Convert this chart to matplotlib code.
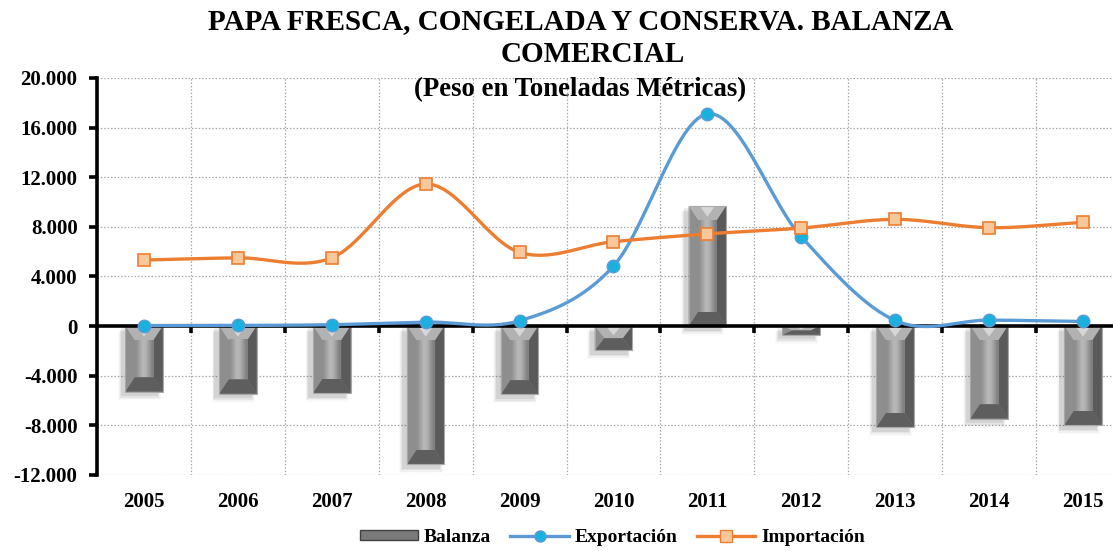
import numpy as np
import matplotlib
matplotlib.use("Agg")
import matplotlib.pyplot as plt
from matplotlib.patches import Polygon, Rectangle
from matplotlib.lines import Line2D
from matplotlib.ticker import FuncFormatter, FixedLocator

years = ["2005", "2006", "2007", "2008", "2009", "2010",
         "2011", "2012", "2013", "2014", "2015"]
exportacion = [40, 50, 110, 320, 430, 4840, 17100, 7200, 450, 480, 370]
importacion = [5320, 5500, 5500, 11450, 5940, 6800, 7430, 7900, 8600, 7930, 8360]
balanza = [-5280, -5450, -5390, -11130, -5510, -1960, 9670, -700, -8150, -7450, -7990]

plt.rcParams["font.family"] = ["Liberation Serif", "DejaVu Serif"]
plt.rcParams["font.weight"] = "bold"

BLUE = "#5b9bd5"
ORANGE = "#ed7d31"


def smooth(xs, ys, n=30):
    """Catmull-Rom curve through the points (like Excel's smoothed line)."""
    xs = np.asarray(xs, float)
    ys = np.asarray(ys, float)
    px = np.concatenate([[2 * xs[0] - xs[1]], xs, [2 * xs[-1] - xs[-2]]])
    py = np.concatenate([[2 * ys[0] - ys[1]], ys, [2 * ys[-1] - ys[-2]]])
    outx, outy = [], []
    t = np.linspace(0, 1, n)
    for i in range(1, len(px) - 2):
        for p, out in ((px, outx), (py, outy)):
            p0, p1, p2, p3 = p[i - 1], p[i], p[i + 1], p[i + 2]
            out.extend(0.5 * ((2 * p1) + (-p0 + p2) * t
                              + (2 * p0 - 5 * p1 + 4 * p2 - p3) * t ** 2
                              + (-p0 + 3 * p1 - 3 * p2 + p3) * t ** 3))
    return np.array(outx), np.array(outy)


def bevel_bar(ax, patch):
    """Paint a bevelled 3D look on top of a bar patch."""
    x0, y0 = patch.get_x(), patch.get_y()
    w, h = patch.get_width(), patch.get_height()
    x1 = x0 + w
    ylo, yhi = min(y0, y0 + h), max(y0, y0 + h)
    dx = w * 0.25
    dy = min(1150, (yhi - ylo) / 2)
    # soft shadow, down and to the left
    for k, a in enumerate([0.07, 0.05, 0.035, 0.02]):
        ax.add_patch(Rectangle((x0 - 0.05 - 0.01 * k, ylo - 380 - 110 * k),
                               w + 0.02 * k, yhi - ylo + 200,
                               color="black", alpha=a, lw=0, zorder=1.5))
    ix0, ix1 = x0 + dx, x1 - dx
    iylo, iyhi = ylo + dy, yhi - dy
    faces = [
        ([(x0, yhi), (x1, yhi), (ix1, iyhi), (ix0, iyhi)], "#b2b2b2"),
        ([(x0, ylo), (x1, ylo), (ix1, iylo), (ix0, iylo)], "#5e5e5e"),
        ([(x0, ylo), (x0, yhi), (ix0, iyhi), (ix0, iylo)], "#8e8e8e"),
        ([(x1, ylo), (x1, yhi), (ix1, iyhi), (ix1, iylo)], "#5a5a5a"),
    ]
    for pts, c in faces:
        ax.add_patch(Polygon(pts, closed=True, facecolor=c, edgecolor="none",
                             zorder=2.1))
    if iyhi > iylo:
        grad = np.array([[0.56, 0.64, 0.72, 0.70, 0.60, 0.50]])
        ax.imshow(grad, cmap="gray", vmin=0, vmax=1, aspect="auto",
                  extent=(ix0, ix1, iylo, iyhi), interpolation="bilinear",
                  zorder=2.2)
    cx = (x0 + x1) / 2
    ax.add_patch(Polygon([(cx - dx * 0.8, yhi), (cx + dx * 0.8, yhi),
                          (cx, yhi - dy * 0.75)], closed=True,
                         facecolor="#d6d6d6", edgecolor="none", zorder=2.15))
    ax.add_patch(Rectangle((x0, ylo), w, yhi - ylo, fill=False,
                           edgecolor="#a8a8a8", lw=0.8, zorder=2.3))


fig = plt.figure(figsize=(11.13, 5.51), dpi=100)
ax = fig.add_axes([0.0872, 0.138, 0.928, 0.7206])

x = np.arange(len(years))
bars = ax.bar(x, balanza, width=0.4, color="#8c8c8c", zorder=2)
for b in bars:
    bevel_bar(ax, b)

sx, sy = smooth(x, exportacion)
ax.plot(sx, sy, color=BLUE, lw=2.4, zorder=3, solid_capstyle="round")
ax.plot(x, exportacion, "o", ms=9, mfc="#1ab0e0", mec=BLUE, mew=1.0, zorder=4)

sx, sy = smooth(x, importacion)
ax.plot(sx, sy, color=ORANGE, lw=2.4, zorder=3, solid_capstyle="round")
ax.plot(x, importacion, "s", ms=9, mfc="#f9c89a", mec=ORANGE, mew=1.2, zorder=4)

ax.set_xlim(-0.5, len(years) - 0.5)
ax.set_ylim(-12000, 20000)
ax.set_yticks(np.arange(-12000, 20001, 4000))
ax.yaxis.set_major_formatter(
    FuncFormatter(lambda v, p: f"{int(v):,}".replace(",", ".")))
ax.set_xticks(x)
ax.set_xticklabels(years)
ax.xaxis.set_minor_locator(FixedLocator(np.arange(-0.5, len(years), 1.0)))

ax.grid(True, axis="y", which="major", linestyle=(0, (1.2, 1.5)),
        color="#a8a8a8", lw=0.9, zorder=0)
ax.grid(True, axis="x", which="minor", linestyle=(0, (1.2, 1.5)),
        color="#a8a8a8", lw=0.9, zorder=0)
ax.set_axisbelow(True)

for s in ["top", "right", "bottom"]:
    ax.spines[s].set_visible(False)
ax.spines["left"].set_linewidth(2.6)
ax.axhline(0, color="black", lw=2.6, zorder=2.5)

ax.tick_params(axis="y", length=6, width=2.6, direction="out",
               labelsize=15, pad=8)
ax.tick_params(axis="x", which="major", length=0, labelsize=15, pad=12)
ax.tick_params(axis="x", which="minor", length=0)
# little tick marks on the zero line between categories
for b in np.arange(0.5, len(years) - 0.5, 1.0):
    ax.plot([b, b], [0, -550], color="black", lw=2.6, zorder=2.5,
            solid_capstyle="butt")
for lbl in ax.get_xticklabels() + ax.get_yticklabels():
    lbl.set_fontweight("bold")

fig.text(0.522, 1 - 22 / 551, "PAPA FRESCA, CONGELADA Y CONSERVA. BALANZA",
         ha="center", va="center", fontsize=21, fontweight="bold")
fig.text(0.533, 1 - 54 / 551, "COMERCIAL",
         ha="center", va="center", fontsize=21, fontweight="bold")
fig.text(0.521, 1 - 90 / 551, "(Peso en Toneladas Métricas)", ha="center",
         va="center", fontsize=19.3, fontweight="bold")

handles = [
    Rectangle((0, 0), 1, 1, facecolor="#7a7a7a", edgecolor="#404040"),
    Line2D([], [], color=BLUE, lw=2.4, marker="o", ms=8, mfc="#1ab0e0",
           mec=BLUE),
    Line2D([], [], color=ORANGE, lw=2.4, marker="s", ms=8, mfc="#f9c89a",
           mec=ORANGE),
]
leg = fig.legend(handles, ["Balanza", "Exportación", "Importación"],
                 loc="lower center", bbox_to_anchor=(0.550, -0.022), ncol=3,
                 frameon=False, fontsize=14, handlelength=3.0,
                 handleheight=0.4, columnspacing=1.0, handletextpad=0.3)
for t in leg.get_texts():
    t.set_fontweight("bold")

fig.savefig("out.png", dpi=100)
